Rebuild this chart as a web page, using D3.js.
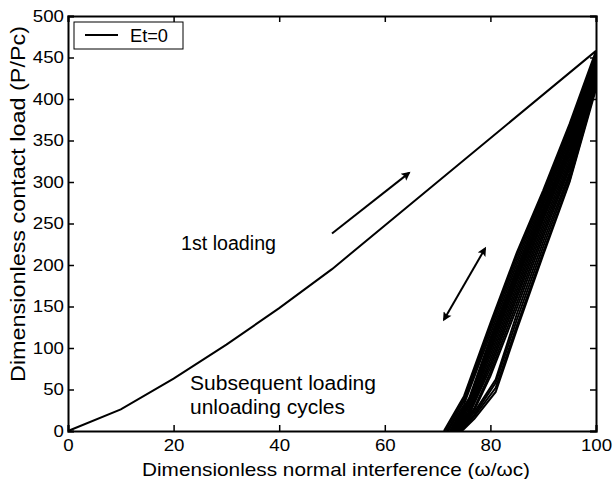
<!DOCTYPE html>
<html>
<head>
<meta charset="utf-8">
<script src="https://cdn.jsdelivr.net/npm/d3@7"></script>
<style>
  body { margin: 0; background: #fff; }
  text { font-family: "Liberation Sans", Arial, sans-serif; fill: #000; }
</style>
</head>
<body>
<div id="chart"></div>
<script>
var width = 613;
var height = 479;
var margin = { top: 16, right: 17, bottom: 48, left: 68 };

// first loading curve (omega/omega_c, P/Pc)
const firstX = [0, 10, 20, 30, 40, 50, 100];
const firstY = [0, 26, 63, 104, 148, 195, 458];

// subsequent loading / unloading cycles, each a list of [x, y]
const cycles = [
  [[71.2, 0], [75, 42], [80, 130], [85, 215], [90, 290], [95, 370], [100, 458]],
  [[71.5, 0], [75, 39], [80, 126], [85, 211], [90, 287], [95, 366], [100, 455]],
  [[71.8, 0], [75, 36], [80, 122], [85, 206], [90, 284], [95, 362], [100, 452]],
  [[72.0, 0], [75, 32], [80, 117], [85, 201], [90, 280], [95, 358], [100, 449]],
  [[72.3, 0], [76, 40], [80, 112], [85, 196], [90, 276], [95, 354], [100, 446]],
  [[72.5, 0], [76, 37], [80, 108], [85, 192], [90, 272], [95, 350], [100, 443]],
  [[72.6, 0], [76, 34], [80, 104], [85, 188], [90, 268], [95, 346], [100, 440]],
  [[72.8, 0], [76, 32], [80, 100], [85, 184], [90, 265], [95, 343], [100, 438]],
  [[73.0, 0], [76, 30], [80, 96], [85, 180], [90, 262], [95, 340], [100, 436]],
  [[73.2, 0], [76, 27], [80, 91], [85, 175], [90, 258], [95, 336], [100, 433]],
  [[73.3, 0], [76, 24], [80, 86], [85, 170], [90, 254], [95, 332], [100, 430]],
  [[73.5, 0], [76, 22], [80, 81], [85, 165], [90, 249], [95, 328], [100, 428]],
  [[73.6, 0], [76, 20], [80, 76], [85, 160], [90, 244], [95, 324], [100, 426]],
  [[73.8, 0], [77, 28], [80, 71], [85, 154], [90, 239], [95, 320], [100, 424]],
  [[73.9, 0], [77, 26], [80, 66], [85, 148], [90, 234], [95, 316], [100, 422]],
  [[74.0, 0], [77, 23], [81, 62], [85, 141], [90, 228], [95, 311], [100, 420]],
  [[74.2, 0], [77, 20], [81, 58], [85, 134], [90, 222], [95, 307], [100, 418]],
  [[74.4, 0], [77, 18], [81, 52], [85, 127], [90, 216], [95, 302], [100, 415]],
  [[74.6, 0], [77, 15], [81, 47], [85, 122], [90, 212], [95, 300], [100, 412]]
];

const xTicks = [0, 20, 40, 60, 80, 100];
const yTicks = [0, 50, 100, 150, 200, 250, 300, 350, 400, 450, 500];

// annotation arrows in data units
const arrowLoad = [[50, 238], [64.6, 311]];
const arrowCycle = [[71.2, 134], [79, 220]];

const svg = d3
  .select("#chart")
  .append("svg")
  .attr("width", width)
  .attr("height", height);

const x = d3.scaleLinear().domain([0, 100]).range([margin.left, width - margin.right]);
const y = d3.scaleLinear().domain([0, 500]).range([height - margin.bottom, margin.top]);

svg.append("defs")
  .append("marker")
  .attr("id", "head")
  .attr("viewBox", "0 0 10 10")
  .attr("refX", 8)
  .attr("refY", 5)
  .attr("markerWidth", 11)
  .attr("markerHeight", 9)
  .attr("markerUnits", "userSpaceOnUse")
  .attr("orient", "auto-start-reverse")
  .append("path")
  .attr("d", "M0,0 L10,5 L0,10 L2,5 Z")
  .attr("fill", "#000");

const line = d3.line().x(d => x(d[0])).y(d => y(d[1]));

const plot = svg.append("g");

plot.selectAll("path.cycle")
  .data(cycles)
  .enter()
  .append("path")
  .attr("class", "cycle")
  .attr("d", line)
  .attr("fill", "none")
  .attr("stroke", "#000")
  .attr("stroke-width", 2);

plot.append("path")
  .attr("d", line(firstX.map((v, i) => [v, firstY[i]])))
  .attr("fill", "none")
  .attr("stroke", "#000")
  .attr("stroke-width", 2);

// arrows
plot.append("path")
  .attr("d", line(arrowLoad))
  .attr("stroke", "#000")
  .attr("stroke-width", 2)
  .attr("marker-end", "url(#head)");

plot.append("path")
  .attr("d", line(arrowCycle))
  .attr("stroke", "#000")
  .attr("stroke-width", 2)
  .attr("marker-start", "url(#head)")
  .attr("marker-end", "url(#head)");

// axes with inward ticks on all four sides
const fmt = d3.format("d");
svg.append("g")
  .attr("transform", `translate(0,${y(0)})`)
  .call(d3.axisBottom(x).tickValues(xTicks).tickSize(-6).tickPadding(8).tickFormat(fmt));
svg.append("g")
  .attr("transform", `translate(${x(0)},0)`)
  .call(d3.axisLeft(y).tickValues(yTicks).tickSize(-6).tickPadding(4).tickFormat(fmt));
svg.append("g")
  .attr("transform", `translate(0,${y(500)})`)
  .call(d3.axisTop(x).tickValues(xTicks).tickSize(-6).tickFormat(""));
svg.append("g")
  .attr("transform", `translate(${x(100)},0)`)
  .call(d3.axisRight(y).tickValues(yTicks).tickSize(-6).tickFormat(""));

svg.selectAll(".domain").attr("stroke-width", 2).attr("stroke", "#000");
svg.selectAll(".tick line").attr("stroke-width", 1.5).attr("stroke", "#000");
svg.selectAll(".tick text")
  .attr("font-size", 17)
  .attr("font-family", "Liberation Sans, Arial, sans-serif")
  .each(function () {
    // the reference glyphs are a little wider than Liberation Sans
    const w = this.getComputedTextLength();
    if (w > 0) d3.select(this).attr("textLength", w * 1.1).attr("lengthAdjust", "spacingAndGlyphs");
  });

// axis titles
svg.append("text")
  .attr("x", 336)
  .attr("y", 476)
  .attr("text-anchor", "middle")
  .attr("font-size", 19)
  .attr("textLength", 388)
  .attr("lengthAdjust", "spacingAndGlyphs")
  .text("Dimensionless normal interference (ω/ωc)");

svg.append("text")
  .attr("transform", "translate(25,204) rotate(-90)")
  .attr("text-anchor", "middle")
  .attr("font-size", 20)
  .attr("textLength", 356)
  .attr("lengthAdjust", "spacingAndGlyphs")
  .text("Dimensionless contact load (P/Pc)");

// annotations
function note(tx, ty, len, s) {
  svg.append("text")
    .attr("x", tx).attr("y", ty)
    .attr("font-size", 20)
    .attr("textLength", len)
    .attr("lengthAdjust", "spacingAndGlyphs")
    .text(s);
}
note(181, 250, 95, "1st loading");
note(190, 390, 186, "Subsequent loading");
note(190, 414, 155, "unloading cycles");

// legend
const legend = svg.append("g");
legend.append("rect")
  .attr("x", 74).attr("y", 22).attr("width", 109).attr("height", 27)
  .attr("fill", "#fff").attr("stroke", "#000").attr("stroke-width", 1);
legend.append("line")
  .attr("x1", 85).attr("x2", 118).attr("y1", 35).attr("y2", 35)
  .attr("stroke", "#000").attr("stroke-width", 2);
legend.append("text")
  .attr("x", 130).attr("y", 42).attr("font-size", 19)
  .attr("textLength", 38).attr("lengthAdjust", "spacingAndGlyphs")
  .text("Et=0");
</script>
</body>
</html>
